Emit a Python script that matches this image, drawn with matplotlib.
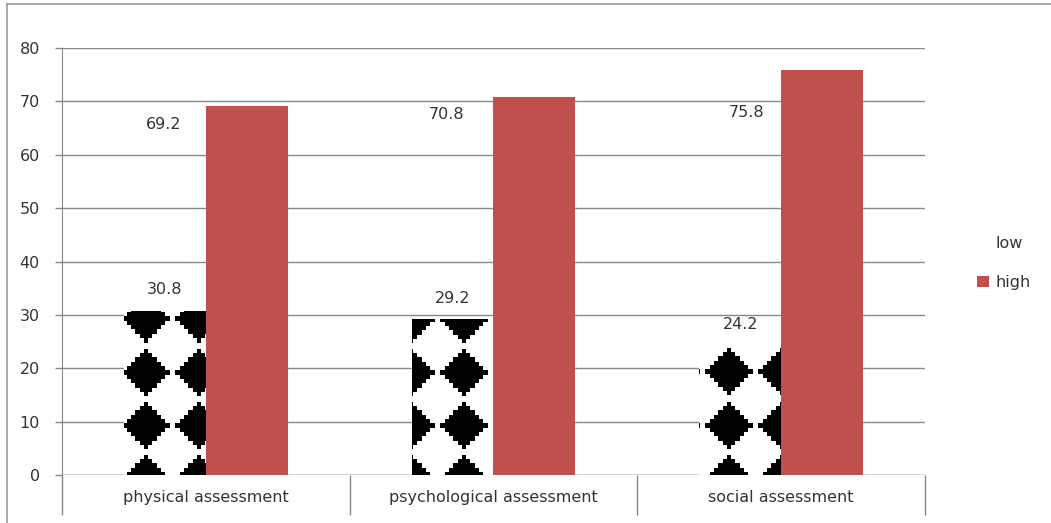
import numpy as np
import matplotlib
matplotlib.use("Agg")
import matplotlib.pyplot as plt
from matplotlib.lines import Line2D
from matplotlib.patches import Patch

# 評估結果：低/高 百分比
categories = ["physical assessment", "psychological assessment", "social assessment"]
low_values = [30.8, 29.2, 24.2]
high_values = [69.2, 70.8, 75.8]
y_ticks = [0, 10, 20, 30, 40, 50, 60, 70, 80]

# "high" 標籤放在柱子左側（相對類別中心的偏移, y）
high_label_pos = [(-0.148, 65.6), (-0.163, 67.6), (-0.12, 68.0)]

RED = "#C0504D"
GRID = "#888888"
TEXT = "#333333"
FS = 11.5

plt.rcParams["font.family"] = ["DejaVu Sans"]


# 黑色階梯菱形花紋（像素單位）
def diamond_pattern(h, w, x0=83.5, y0=324, period=53, step=4.3, size=5):
    yy, xx = np.mgrid[0:h, 0:w]
    dx = (xx - x0 + period / 2) % period - period / 2
    dy = (yy - y0 + period / 2) % period - period / 2
    qx = np.floor(np.abs(dx) / step + 0.5)
    qy = np.floor(np.abs(dy) / step + 0.5)
    mask = (qx + qy) <= size
    img = np.ones((h, w, 3))
    img[mask] = 0.0
    return img


fig = plt.figure(figsize=(10.51, 5.23), dpi=100)
W, H = 1051, 523
ax_l, ax_r, ax_t, ax_b = 62, 925, 48, 475
ax = fig.add_axes([ax_l / W, 1 - ax_b / H, (ax_r - ax_l) / W, (ax_b - ax_t) / H])

x = np.arange(len(categories))
w = 0.285

ax.set_axisbelow(True)
ax.yaxis.grid(True, color=GRID, linewidth=1)

low_bars = ax.bar(x - w / 2, low_values, w, color="white", linewidth=0, zorder=2)
high_bars = ax.bar(x + w / 2, high_values, w, color=RED, linewidth=0, zorder=3)

pattern = diamond_pattern(ax_b - ax_t, ax_r - ax_l)
for bar in low_bars:
    im = ax.imshow(pattern, extent=(-0.5, 2.5, 0, 80), aspect="auto",
                   interpolation="nearest", zorder=2.5)
    im.set_clip_path(bar)

ax.set_xlim(-0.5, 2.5)
ax.set_ylim(0, 80)

# 數值標籤
for xi, v in zip(x, low_values):
    ax.annotate(f"{v}", (xi - w / 2, v), xytext=(0, 15), textcoords="offset points",
                ha="center", va="center", fontsize=FS, color=TEXT, zorder=5)
for xi, v, (dx, ly) in zip(x, high_values, high_label_pos):
    ax.text(xi + dx, ly, f"{v}", ha="center", va="center", fontsize=FS,
            color=TEXT, zorder=5)

# 座標軸
for s in ["top", "right", "bottom"]:
    ax.spines[s].set_visible(False)
ax.spines["left"].set_color(GRID)
ax.axhline(0, color=GRID, linewidth=1, zorder=1)

ax.set_yticks(y_ticks)
ax.tick_params(axis="y", length=5, width=1, color=GRID, pad=11,
               labelsize=FS, labelcolor=TEXT)

ax.set_xticks(x)
ax.set_xticklabels(categories)
ax.set_xticks([-0.5, 0.5, 1.5, 2.5], minor=True)
ax.tick_params(axis="x", which="major", length=0, pad=11, labelsize=FS,
               labelcolor=TEXT)
ax.tick_params(axis="x", which="minor", length=29, width=1, color=GRID)

# 圖例
handles = [Patch(facecolor="white", edgecolor="none"),
           Patch(facecolor=RED, edgecolor="none")]
fig.legend(handles, ["low", "high"], loc="center left",
           bbox_to_anchor=(969 / W, 1 - 263 / H), frameon=False, borderpad=0,
           fontsize=FS, labelcolor=TEXT, handlelength=0.75, handleheight=0.75,
           handletextpad=0.4, labelspacing=1.5)

# 外框
fig.add_artist(Line2D([7 / W, 7 / W], [0, 1 - 4 / H], transform=fig.transFigure,
                      color="#999999", linewidth=1.2))
fig.add_artist(Line2D([7 / W, 1], [1 - 4 / H, 1 - 4 / H], transform=fig.transFigure,
                      color="#999999", linewidth=1.2))

fig.savefig("out.png", dpi=100)
